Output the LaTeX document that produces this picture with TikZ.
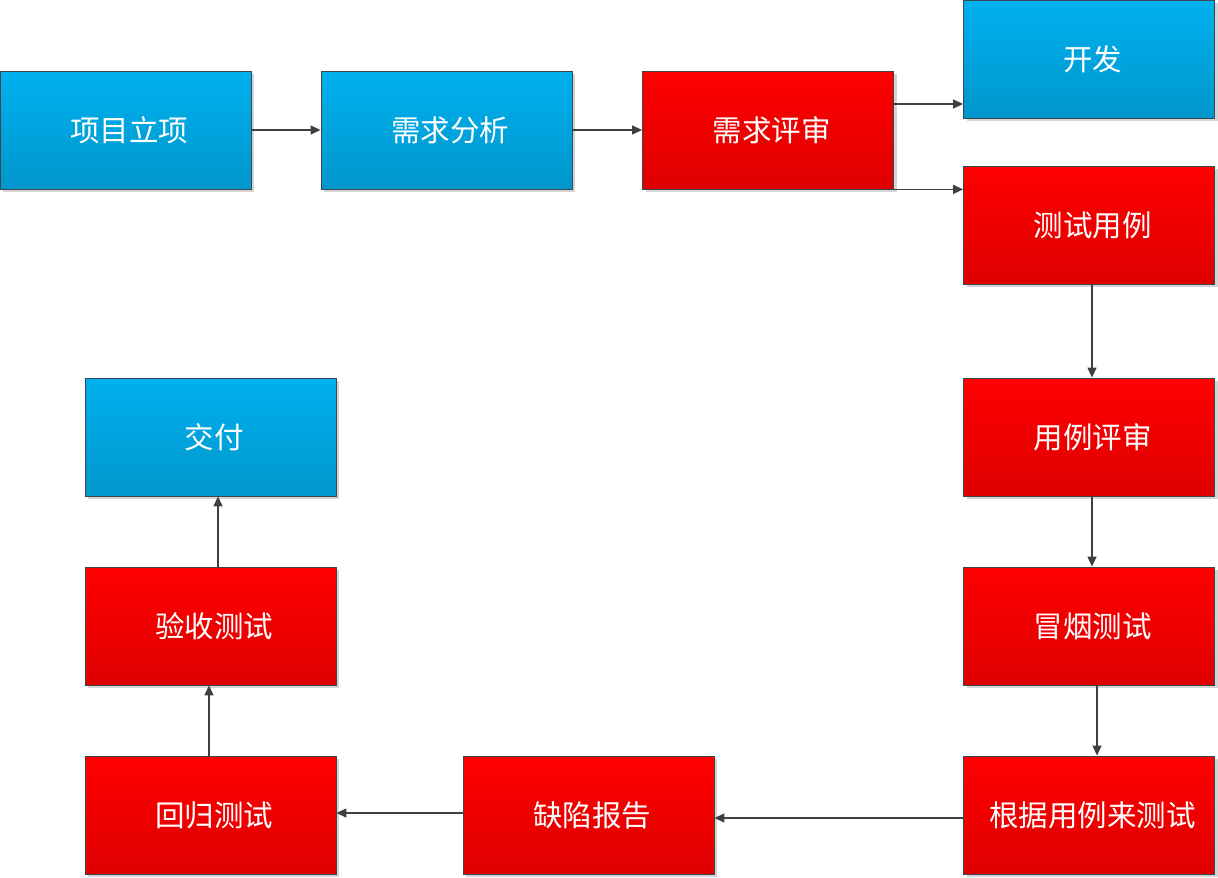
\documentclass[tikz,border=0pt]{standalone}
\usepackage{fontspec}
\newfontfamily\cjk{Noto Sans CJK SC}
\usetikzlibrary{arrows.meta,shadows}
\definecolor{bluetop}{HTML}{00B0EE}
\definecolor{bluebot}{HTML}{0097CC}
\definecolor{redtop}{HTML}{FF0000}
\definecolor{redbot}{HTML}{DE0000}
\definecolor{edgecol}{HTML}{3A4650}
\definecolor{arrcol}{HTML}{404040}
\definecolor{shadowcol}{HTML}{D4D4D4}
\tikzset{
  box/.style={rectangle, draw=edgecol, line width=0.8pt, minimum width=251pt, minimum height=118pt,
    inner sep=0pt, text=white, font=\cjk\fontsize{29.5}{32}\selectfont,
    execute at begin node=\hspace*{7pt},
    drop shadow={shadow xshift=3pt, shadow yshift=-3pt, fill=shadowcol, opacity=1}},
  bluebox/.style={box, top color=bluetop, bottom color=bluebot},
  redbox/.style={box, top color=redtop, bottom color=redbot},
  arr/.style={draw=arrcol, line width=1.3pt, -{Triangle[length=10pt,width=9pt]}}
}
\begin{document}
\begin{tikzpicture}[x=1pt,y=-1pt]
\useasboundingbox (0,0) rectangle (1218,878);
\node[bluebox] (xm) at (125.5,130) {项目立项};
\node[bluebox] (xq) at (446.5,130) {需求分析};
\node[redbox]  (rr) at (768,130) {需求评审};
\node[bluebox] (kf) at (1089,59) {开发};
\node[redbox]  (tc) at (1089,225) {测试用例};
\node[redbox]  (yp) at (1089,437) {用例评审};
\node[redbox]  (my) at (1089,626) {冒烟测试};
\node[redbox]  (gj) at (1089,815) {根据用例来测试};
\node[redbox]  (qx) at (588.5,815) {缺陷报告};
\node[redbox]  (hg) at (210.5,815) {回归测试};
\node[redbox]  (ys) at (210.5,626) {验收测试};
\node[bluebox] (jf) at (210.5,437) {交付};

\draw[arr] (xm.east) -- (xq.west);
\draw[arr] (xq.east) -- (rr.west);
\draw[arr] ([yshift=26pt]rr.east) -- ([yshift=26pt]rr.east -| kf.west);
\draw[arr] (rr.south east) -- (rr.south east -| tc.west);
\draw[arr] ([xshift=3pt]tc.south) -- ([xshift=3pt]yp.north);
\draw[arr] ([xshift=3pt]yp.south) -- ([xshift=3pt]my.north);
\draw[arr] ([xshift=8pt]my.south) -- ([xshift=8pt]gj.north);
\draw[arr] ([yshift=-3pt]gj.west) -- ([yshift=-3pt]gj.west -| qx.east);
\draw[arr] ([yshift=2pt]qx.west) -- ([yshift=2pt]qx.west -| hg.east);
\draw[arr] ([xshift=-1.5pt]hg.north) -- ([xshift=-1.5pt]ys.south);
\draw[arr] ([xshift=7.5pt]ys.north) -- ([xshift=7.5pt]jf.south);
\end{tikzpicture}
\end{document}
